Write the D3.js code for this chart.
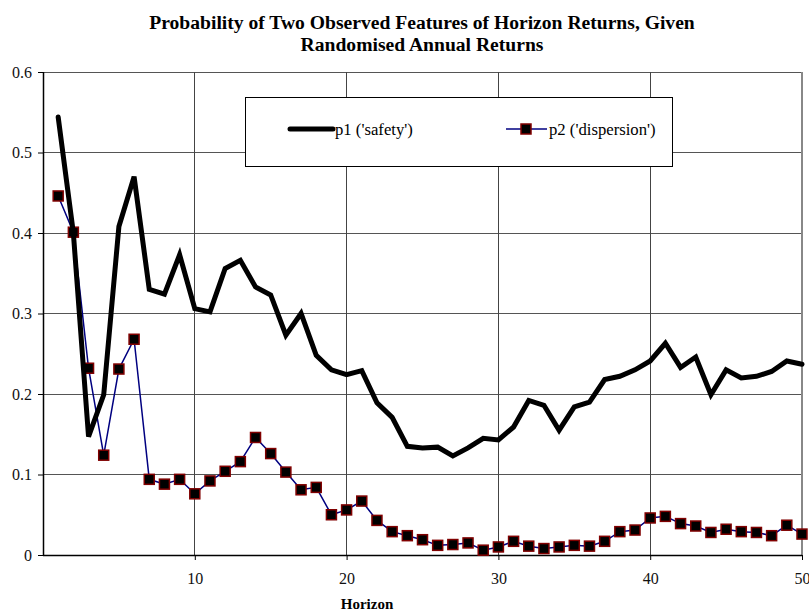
<!doctype html>
<head>
  <meta charset="utf-8">
  <script src="https://cdn.jsdelivr.net/npm/d3@7"></script>
</head>

<style type="text/css">
  body { margin: 0; background: #fff; }
  text { font-family: 'Liberation Serif', 'Times New Roman', serif; }
  .title { font-size: 19.6px; font-weight: bold; text-anchor: middle; }
  .axis_label { font-size: 15px; font-weight: bold; text-anchor: middle; }
  .legend_text { font-size: 16.7px; }
</style>

<body>
<svg width="809" height="612"></svg>
<script>
// data
var horizons = d3.range(1, 51);

var p1 = [0.544, 0.400, 0.147, 0.199, 0.408, 0.470, 0.330, 0.324, 0.373, 0.306,
          0.302, 0.356, 0.366, 0.333, 0.323, 0.273, 0.300, 0.248, 0.230, 0.224,
          0.229, 0.189, 0.171, 0.135, 0.133, 0.134, 0.123, 0.133, 0.145, 0.143,
          0.159, 0.192, 0.186, 0.155, 0.184, 0.190, 0.218, 0.222, 0.230, 0.241,
          0.263, 0.233, 0.246, 0.199, 0.230, 0.220, 0.222, 0.228, 0.241, 0.237];

var p2 = [0.446, 0.401, 0.232, 0.124, 0.231, 0.268, 0.094, 0.088, 0.094, 0.076,
          0.092, 0.104, 0.116, 0.146, 0.126, 0.103, 0.081, 0.084, 0.050, 0.056,
          0.067, 0.043, 0.029, 0.024, 0.019, 0.012, 0.013, 0.015, 0.006, 0.010,
          0.017, 0.011, 0.008, 0.010, 0.012, 0.011, 0.017, 0.029, 0.031, 0.046,
          0.048, 0.039, 0.036, 0.028, 0.032, 0.029, 0.028, 0.024, 0.037, 0.026];

var x_ticks = [10, 20, 30, 40, 50];
var y_ticks = [0, 0.1, 0.2, 0.3, 0.4, 0.5, 0.6];

var series_names = ["p1 ('safety')", "p2 ('dispersion')"];
var title_lines = ["Probability of Two Observed Features of Horizon Returns, Given",
                   "Randomised Annual Returns"];

var svg = d3.select("svg");

// plot area
var pl = 43, pr = 802, pt = 72, pb = 555;

var x = d3.scaleLinear().domain([0, 50]).range([pl, pr]);
var y = d3.scaleLinear().domain([0, 0.6]).range([pb, pt]);

// title
svg.selectAll("text.title")
.data(title_lines)
.enter().append("text").classed("title", true)
.attr("x", 422)
.attr("y", function(d, i){ return 29 + i*22; })
.text(function(d){ return d; });

// grid
var grid = svg.append("g").classed("grid", true);

grid.selectAll("line.h")
.data(y_ticks.slice(1))
.enter().append("line").classed("h", true)
.attr("x1", pl).attr("x2", pr)
.attr("y1", function(d){ return y(d); })
.attr("y2", function(d){ return y(d); })
.style("stroke", "#555").style("stroke-width", 1)
.attr("shape-rendering", "crispEdges");

grid.selectAll("line.v")
.data(x_ticks.slice(0, -1))
.enter().append("line").classed("v", true)
.attr("y1", pt).attr("y2", pb)
.attr("x1", function(d){ return x(d); })
.attr("x2", function(d){ return x(d); })
.style("stroke", "#444").style("stroke-width", 1)
.attr("shape-rendering", "crispEdges");

// right border
svg.append("line")
.attr("x1", pr).attr("x2", pr)
.attr("y1", pt).attr("y2", pb)
.style("stroke", "#888").style("stroke-width", 2);

// axes
var xAxis = d3.axisBottom(x).tickValues(x_ticks).tickSize(5).tickPadding(13)
  .tickFormat(d3.format("d"));
var yAxis = d3.axisLeft(y).tickValues(y_ticks).tickSize(5).tickPadding(6)
  .tickFormat(function(d){ return d === 0 ? "0" : d3.format(".1f")(d); });

var gx = svg.append("g")
.attr("transform", "translate(0," + pb + ")")
.call(xAxis);
gx.select(".domain").attr("d", "M" + pl + ",0.5H" + pr);

var gy = svg.append("g")
.attr("transform", "translate(" + pl + ",0)")
.call(yAxis);
gy.select(".domain").attr("d", "M0.5," + pt + "V" + pb);

svg.selectAll(".domain").style("stroke", "#000").style("stroke-width", 1.5);
svg.selectAll(".tick line").style("stroke", "#000");
svg.selectAll(".tick text")
.style("font-family", "'Liberation Serif', 'Times New Roman', serif")
.style("font-size", "16px")
.style("fill", "#111");

svg.append("text").classed("axis_label", true)
.attr("x", 367).attr("y", 609)
.text("Horizon");

// series
var line = d3.line()
.x(function(d, i){ return x(horizons[i]); })
.y(function(d){ return y(d); });

svg.append("path")
.datum(p2)
.attr("d", line)
.style("fill", "none")
.style("stroke", "#000080")
.style("stroke-width", 1.5);

var msize = 10;
svg.selectAll("rect.p2")
.data(p2)
.enter().append("rect").classed("p2", true)
.attr("x", function(d, i){ return x(horizons[i]) - msize/2; })
.attr("y", function(d){ return y(d) - msize/2; })
.attr("width", msize).attr("height", msize)
.style("fill", "#000")
.style("stroke", "#800000")
.style("stroke-width", 1.5);

svg.append("path")
.datum(p1)
.attr("d", line)
.style("fill", "none")
.style("stroke", "#000")
.style("stroke-width", 5)
.style("stroke-linejoin", "miter")
.style("stroke-linecap", "round");

// legend
var lg = svg.append("g").attr("transform", "translate(" + [245, 97] + ")");

lg.append("rect")
.attr("x", 0.5).attr("y", 0.5)
.attr("width", 427).attr("height", 69)
.style("fill", "#fff").style("stroke", "#000").style("stroke-width", 1);

lg.append("line")
.attr("x1", 45).attr("x2", 88).attr("y1", 32).attr("y2", 32)
.style("stroke", "#000").style("stroke-width", 5).style("stroke-linecap", "round");

lg.append("text").classed("legend_text", true)
.attr("x", 90).attr("y", 38)
.text(series_names[0]);

lg.append("line")
.attr("x1", 261).attr("x2", 302).attr("y1", 32).attr("y2", 32)
.style("stroke", "#000080").style("stroke-width", 1.5);

lg.append("rect")
.attr("x", 281 - msize/2).attr("y", 32 - msize/2)
.attr("width", msize).attr("height", msize)
.style("fill", "#000").style("stroke", "#800000").style("stroke-width", 1.5);

lg.append("text").classed("legend_text", true)
.attr("x", 304).attr("y", 38)
.text(series_names[1]);

</script>
</body>
